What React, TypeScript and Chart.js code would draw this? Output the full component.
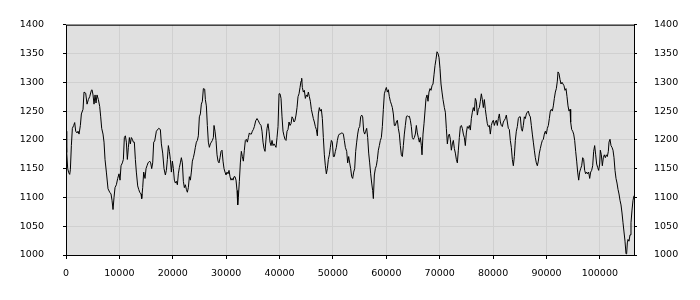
import { useEffect, useRef } from "react";
import { Chart, registerables } from "chart.js";

Chart.register(...registerables);

// x positions (data units) of the sampled points
const xValues: number[] = [
  0, 131, 318, 506, 693, 818, 1005, 1192, 1442, 1629, 1817, 2066, 2254, 2441, 2691, 2878, 3190, 3377, 3690, 3940,
  4189, 4439, 4751, 4876, 5063, 5250, 5438, 5625, 5812, 6062, 6312, 6499, 6686, 6936, 7123, 7310, 7560, 7872, 8185, 8434,
  8621, 8809, 8996, 9183, 9433, 9683, 9933, 10120, 10307, 10557, 10744, 10931, 11119, 11306, 11493, 11681, 11868, 12055, 12242, 12430,
  12617, 12804, 12992, 13179, 13429, 13616, 13803, 14053, 14178, 14365, 14552, 14802, 14989, 15177, 15364, 15676, 15863, 16051, 16238, 16425,
  16614, 16926, 17363, 17675, 17863, 18112, 18362, 18612, 18799, 18986, 19174, 19361, 19548, 19736, 19923, 20110, 20297, 20485, 20672, 20859,
  21047, 21234, 21421, 21608, 21796, 21983, 22170, 22358, 22545, 22732, 22919, 23107, 23294, 23481, 23669, 23856, 24043, 24230, 24418, 24605,
  24792, 24980, 25167, 25354, 25541, 25729, 25979, 26103, 26291, 26478, 26665, 26853, 27040, 27227, 27414, 27602, 27726, 27914, 28101, 28288,
  28476, 28663, 28850, 29037, 29225, 29412, 29599, 29787, 29974, 30161, 30348, 30536, 30723, 30910, 31098, 31285, 31472, 31660, 31847, 32034,
  32159, 32284, 32471, 32658, 32846, 33033, 33220, 33408, 33595, 33782, 33969, 34157, 34344, 34531, 34719, 34906, 35093, 35280,
  35532, 35781, 36031, 36281, 36531, 36718, 36905, 37092, 37280, 37467, 37654, 37842, 38029, 38216, 38404, 38591, 38778, 38965, 39153, 39340,
  39527, 39715, 39902, 40089, 40277, 40464, 40651, 40838, 41026, 41213, 41400, 41587, 41775, 41962, 42149, 42337, 42524, 42711, 42898, 43086,
  43273, 43460, 43648, 43835, 44022, 44147, 44272, 44459, 44647, 44834, 45021, 45208, 45396, 45583, 45770, 45958, 46145, 46332, 46519, 46707,
  46894, 47081, 47269, 47456, 47643, 47831, 48018, 48205, 48392, 48580, 48767, 48954, 49141, 49329, 49516, 49703, 49891, 50078, 50265, 50452,
  50640, 50827, 51014, 51202, 51389, 51576, 51763, 51951, 52138, 52325,
  52575, 52762, 52949, 53136, 53324, 53511, 53698, 53886, 54073, 54260, 54447, 54635, 54822, 55009, 55197, 55384, 55571, 55758, 55946, 56133,
  56320, 56508, 56695, 56882, 57070, 57257, 57444, 57569, 57756, 57944, 58131, 58318, 58506, 58693, 58880, 59067, 59255, 59442, 59629, 59817,
  60004, 60191, 60378, 60566, 60753, 60940, 61128, 61315, 61502, 61689, 61877, 62064, 62251, 62439, 62626, 62813, 63001, 63188, 63375, 63562,
  63750, 63937, 64124, 64312, 64499, 64686, 64873, 65061, 65248, 65435, 65623, 65810, 65997, 66184, 66372, 66559, 66684, 66871, 67058, 67246,
  67433, 67620, 67808, 67995, 68182, 68369, 68557, 68744, 68931, 69119, 69306, 69493, 69680, 69868, 70055, 70242, 70430, 70617,
  70868, 71055, 71243, 71430, 71617, 71804, 71992, 72179, 72366, 72554, 72741, 72928, 73116, 73303, 73490, 73677, 73865, 74052, 74239, 74427,
  74614, 74801, 74988, 75176, 75363, 75550, 75738, 75925, 76112, 76299, 76487, 76674, 76861, 77049, 77236, 77423, 77610, 77798, 77985, 78172,
  78360, 78547, 78734, 78921, 79109, 79296, 79483, 79671, 79858, 80045, 80232, 80420, 80607, 80794, 80982, 81169, 81356, 81543, 81731, 81918,
  82105, 82293, 82480, 82667, 82854, 83042, 83229, 83416, 83604, 83791, 83978, 84165, 84353, 84540, 84727, 84915, 85102, 85289, 85476, 85664,
  85851, 86038, 86226, 86413, 86600, 86787, 86975, 87162, 87349, 87537, 87724, 87911, 88098, 88286, 88473,
  88662, 88849, 89037, 89224, 89411, 89598, 89786, 89973, 90160, 90348, 90535, 90722, 90910, 91097, 91284, 91471, 91659, 91846, 92033, 92158,
  92345, 92533, 92720, 92907, 93095, 93282, 93469, 93656, 93844, 94031, 94218, 94406, 94530, 94718, 94905, 95092, 95280, 95467, 95654, 95841,
  96029, 96216, 96403, 96591, 96778, 96965, 97152, 97340, 97527, 97714, 97902, 98089, 98276, 98463, 98651, 98838, 99025, 99213, 99400, 99587,
  99774, 99962, 100087, 100274, 100461, 100649, 100836, 101023, 101211, 101398, 101585, 101710, 101897, 102085, 102272, 102459, 102647, 102834, 103021, 103208,
  103396, 103583, 103770, 103958, 104145, 104332, 104519, 104707, 104894, 105019, 105144, 105269, 105456, 105643, 105830, 106018, 106205, 106392,
];

// series values
const yValues: number[] = [
  1215, 1178, 1150, 1143, 1140, 1148, 1190, 1220, 1225, 1230, 1215, 1212, 1215, 1210, 1225, 1245, 1253, 1283, 1281, 1262,
  1270, 1275, 1286, 1287, 1278, 1262, 1278, 1264, 1278, 1270, 1258, 1240, 1220, 1210, 1196, 1166, 1144, 1115, 1109, 1106,
  1095, 1079, 1100, 1117, 1122, 1133, 1141, 1130, 1155, 1160, 1166, 1204, 1207, 1196, 1166, 1187, 1204, 1193, 1204, 1201,
  1196, 1196, 1166, 1144, 1120, 1114, 1109, 1106, 1098, 1117, 1144, 1133, 1150, 1155, 1160, 1163, 1160, 1150, 1160, 1196,
  1198, 1215, 1220, 1218, 1193, 1177, 1150, 1139, 1147, 1166, 1190, 1180, 1166, 1144, 1163, 1150, 1130, 1125, 1128, 1122,
  1141, 1152, 1160, 1169, 1160, 1128, 1117, 1122, 1114, 1109, 1117, 1136, 1130, 1144, 1163, 1169, 1177, 1187, 1196, 1199,
  1207, 1240, 1245, 1262, 1267, 1289, 1288, 1270, 1259, 1225, 1196, 1187, 1193, 1196, 1199, 1204, 1225, 1215, 1199, 1174,
  1163, 1160, 1169, 1180, 1182, 1163, 1150, 1144, 1139, 1144, 1141, 1147, 1136, 1130, 1133, 1130, 1136, 1136, 1130, 1112,
  1087, 1100, 1128, 1160, 1180, 1171, 1163, 1182, 1199, 1201, 1196, 1204, 1212, 1210, 1210, 1215, 1218, 1223,
  1233, 1237, 1233, 1228, 1225, 1215, 1196, 1185, 1180, 1201, 1220, 1228, 1215, 1196, 1190, 1199, 1190, 1193, 1190, 1187,
  1204, 1223, 1280, 1280, 1272, 1240, 1215, 1207, 1201, 1199, 1215, 1218, 1231, 1225, 1228, 1240, 1237, 1231, 1234, 1243,
  1256, 1275, 1280, 1291, 1302, 1307, 1291, 1283, 1286, 1272, 1278, 1275, 1283, 1275, 1267, 1253, 1245, 1237, 1231, 1223,
  1218, 1207, 1245, 1256, 1250, 1253, 1237, 1204, 1174, 1155, 1141, 1150, 1166, 1174, 1187, 1199, 1196, 1171, 1171, 1180,
  1187, 1199, 1207, 1210, 1210, 1212, 1212, 1210, 1199, 1187,
  1180, 1160, 1171, 1160, 1150, 1136, 1133, 1144, 1150, 1180, 1196, 1210, 1220, 1223, 1240, 1243, 1240, 1215, 1210, 1215,
  1220, 1204, 1177, 1160, 1141, 1125, 1112, 1098, 1139, 1150, 1155, 1166, 1182, 1190, 1199, 1204, 1223, 1253, 1280, 1286,
  1291, 1283, 1287, 1275, 1267, 1262, 1256, 1245, 1225, 1225, 1231, 1234, 1220, 1210, 1190, 1174, 1171, 1190, 1210, 1225,
  1240, 1242, 1240, 1241, 1234, 1223, 1204, 1201, 1204, 1210, 1225, 1212, 1204, 1196, 1204, 1190, 1174, 1210, 1228, 1250,
  1272, 1278, 1267, 1283, 1289, 1286, 1294, 1297, 1313, 1329, 1340, 1353, 1350, 1343, 1324, 1297, 1283, 1270,
  1256, 1248, 1220, 1193, 1207, 1210, 1201, 1182, 1193, 1199, 1185, 1177, 1166, 1160, 1182, 1204, 1223, 1225, 1220, 1210,
  1204, 1190, 1212, 1223, 1220, 1225, 1217, 1237, 1248, 1256, 1250, 1272, 1267, 1243, 1253, 1256, 1267, 1280, 1270, 1256,
  1270, 1253, 1240, 1228, 1223, 1225, 1210, 1225, 1231, 1234, 1225, 1231, 1234, 1225, 1237, 1245, 1231, 1225, 1223, 1231,
  1234, 1237, 1243, 1231, 1220, 1218, 1199, 1187, 1166, 1155, 1171, 1199, 1215, 1223, 1237, 1240, 1240, 1220, 1215, 1225,
  1240, 1237, 1245, 1248, 1250, 1243, 1240, 1225, 1210, 1196, 1182, 1169, 1160, 1155, 1163,
  1177, 1185, 1193, 1199, 1201, 1210, 1215, 1210, 1220, 1225, 1237, 1250, 1253, 1250, 1259, 1272, 1283, 1289, 1302, 1318,
  1315, 1305, 1297, 1300, 1297, 1294, 1286, 1289, 1275, 1259, 1250, 1253, 1231, 1218, 1215, 1210, 1199, 1180, 1163, 1144,
  1130, 1144, 1150, 1155, 1169, 1166, 1147, 1141, 1144, 1141, 1144, 1133, 1144, 1147, 1155, 1180, 1190, 1174, 1158, 1152,
  1147, 1158, 1182, 1174, 1155, 1169, 1174, 1169, 1174, 1171, 1180, 1196, 1201, 1190, 1187, 1182, 1169, 1147, 1133, 1125,
  1114, 1106, 1095, 1087, 1073, 1056, 1040, 1024, 1002, 1003, 1021, 1027, 1024, 1035, 1056, 1078, 1095, 1103,
];

const xTickValues = [0, 10000, 20000, 30000, 40000, 50000, 60000, 70000, 80000, 90000, 100000];
const yTickValues = [1000, 1050, 1100, 1150, 1200, 1250, 1300, 1350, 1400];
const X_MIN = 0;
const X_MAX = 106392;
const Y_MIN = 1000;
const Y_MAX = 1400;

const FONT = { family: "'DejaVu Sans', Verdana, sans-serif", size: 9.5 };

export default function App() {
  const ref = useRef<HTMLCanvasElement | null>(null);

  useEffect(() => {
    const canvas = ref.current;
    if (!canvas) return;

    const framePlugin = {
      id: "plotFrame",
      beforeDraw(chart: any) {
        const { ctx, chartArea: a } = chart;
        ctx.save();
        ctx.fillStyle = "#e0e0e0";
        ctx.fillRect(a.left, a.top, a.right - a.left, a.bottom - a.top);
        ctx.restore();
      },
      afterDraw(chart: any) {
        const { ctx, chartArea: a } = chart;
        ctx.save();
        ctx.strokeStyle = "#000";
        ctx.lineWidth = 1;
        ctx.strokeRect(a.left + 0.5, a.top + 0.5, a.right - a.left, a.bottom - a.top);
        ctx.restore();
      },
    };

    const yTicks = (s: any) => {
      s.ticks = yTickValues.map((v) => ({ value: v }));
    };

    const chart = new Chart(canvas, {
      type: "line",
      data: {
        datasets: [
          {
            data: xValues.map((x, i) => ({ x, y: yValues[i] })),
            borderColor: "#000",
            borderWidth: 1,
            pointRadius: 0,
            tension: 0,
            fill: false,
            yAxisID: "y",
          },
        ],
      },
      options: {
        responsive: false,
        animation: false,
        events: [],
        layout: { padding: { top: 10, left: 0, right: 0, bottom: 0 } },
        plugins: { legend: { display: false }, tooltip: { enabled: false } },
        scales: {
          x: {
            type: "linear",
            min: X_MIN,
            max: X_MAX,
            afterBuildTicks: (s: any) => {
              s.ticks = xTickValues.map((v) => ({ value: v }));
            },
            afterFit: (s: any) => {
              s.height = 45;
            },
            grid: { color: "#d0d0d0", tickColor: "#000", tickLength: 4 },
            border: { display: false },
            ticks: {
              color: "#000",
              padding: 9,
              maxRotation: 0,
              autoSkip: false,
              font: FONT,
              callback: (v: any) => String(v),
            },
          },
          y: {
            type: "linear",
            position: "left",
            min: Y_MIN,
            max: Y_MAX,
            afterBuildTicks: yTicks,
            afterFit: (s: any) => {
              s.width = 66;
            },
            grid: { color: "#d0d0d0", tickColor: "#000", tickLength: 3 },
            border: { display: false },
            ticks: {
              color: "#000",
              padding: 19,
              font: FONT,
              callback: (v: any) => String(v),
            },
          },
          y2: {
            type: "linear",
            position: "right",
            min: Y_MIN,
            max: Y_MAX,
            afterBuildTicks: yTicks,
            afterFit: (s: any) => {
              s.width = 66;
            },
            grid: { drawOnChartArea: false, tickColor: "#000", tickLength: 3 },
            border: { display: false },
            ticks: {
              color: "#000",
              padding: 17,
              font: FONT,
              callback: (v: any) => String(v),
            },
          },
        },
      },
      plugins: [framePlugin],
    } as any);

    return () => chart.destroy();
  }, []);

  return (
    <div style={{ position: "fixed", left: 0, top: 0, width: 700, height: 300, background: "#fff" }}>
      <canvas ref={ref} width={700} height={300} style={{ display: "block", width: 700, height: 300 }} />
    </div>
  );
}
